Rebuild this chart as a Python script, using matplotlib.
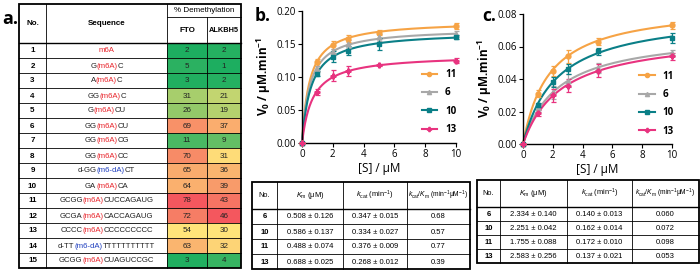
import matplotlib
matplotlib.use("Agg")
import matplotlib.pyplot as plt
import numpy as np
from matplotlib import font_manager
from matplotlib.colors import LinearSegmentedColormap, TwoSlopeNorm
from matplotlib.offsetbox import AnnotationBbox, HPacker, TextArea
from matplotlib.patches import Rectangle

_names = {f.name for f in font_manager.fontManager.ttflist}
NARROW = "Liberation Sans Narrow" if "Liberation Sans Narrow" in _names else "Liberation Sans"
SANS = "Open Sans"

plt.rcParams["font.family"] = [SANS, "DejaVu Sans"]
plt.rcParams["mathtext.fontset"] = "custom"
plt.rcParams["mathtext.rm"] = NARROW
plt.rcParams["mathtext.it"] = NARROW + ":italic"
plt.rcParams["mathtext.bf"] = SANS + ":bold"

# ---- panel a data -------------------------------------------------------
seq_no = list(range(1, 16))
seq_pre = ["", "G", "A", "GG", "G", "GG", "GG", "GG", "d-GG", "GA",
           "GCGG", "GCGA", "CCCC", "d-TT", "GCGG"]
seq_mod = ["m6A", "(m6A)", "(m6A)", "(m6A)", "(m6A)", "(m6A)", "(m6A)", "(m6A)",
           "(m6-dA)", "(m6A)", "(m6A)", "(m6A)", "(m6A)", "(m6-dA)", "(m6A)"]
seq_post = ["", "C", "C", "C", "CU", "CU", "CG", "CC", "CT", "CA",
            "CUCCAGAUG", "CACCAGAUG", "CCCCCCCCC", "TTTTTTTTTTT", "CUAGUCCGC"]
fto = [2, 5, 3, 31, 26, 69, 11, 70, 65, 64, 78, 72, 54, 63, 3]
alkbh5 = [2, 1, 2, 21, 19, 37, 9, 31, 36, 39, 43, 46, 30, 32, 4]

# ---- panels b / c data --------------------------------------------------
subs = [0, 1, 2, 3, 5, 10]
series = ["11", "6", "10", "13"]
colors = {"11": "#F6A345", "6": "#A8A8A8", "10": "#0A7F87", "13": "#E8337F"}
markers = {"11": "o", "6": "^", "10": "s", "13": "P"}

v_b = {
    "11": [0, 0.122, 0.148, 0.158, 0.167, 0.177],
    "6": [0, 0.112, 0.138, 0.150, 0.160, 0.165],
    "10": [0, 0.105, 0.131, 0.140, 0.150, 0.161],
    "13": [0, 0.077, 0.102, 0.109, 0.118, 0.125],
}
err_b = {
    "11": [0, 0.005, 0.006, 0.005, 0.004, 0.005],
    "6": [0, 0.004, 0.005, 0.006, 0.005, 0.004],
    "10": [0, 0.004, 0.008, 0.007, 0.009, 0.003],
    "13": [0, 0.005, 0.008, 0.007, 0.002, 0.004],
}
vmax_b = {"11": 0.185, "6": 0.174, "10": 0.169, "13": 0.134}

v_c = {
    "11": [0, 0.031, 0.045, 0.054, 0.063, 0.073],
    "6": [0, 0.022, 0.032, 0.039, 0.047, 0.056],
    "10": [0, 0.024, 0.038, 0.046, 0.057, 0.065],
    "13": [0, 0.019, 0.030, 0.036, 0.045, 0.054],
}
err_c = {
    "11": [0, 0.002, 0.003, 0.004, 0.002, 0.002],
    "6": [0, 0.002, 0.004, 0.004, 0.003, 0.002],
    "10": [0, 0.001, 0.003, 0.003, 0.002, 0.003],
    "13": [0, 0.002, 0.004, 0.004, 0.004, 0.002],
}
vmax_c = {"11": 0.0858, "6": 0.069, "10": 0.081, "13": 0.068}

kin_no = ["6", "10", "11", "13"]
km_b = [0.508, 0.586, 0.488, 0.688]
km_b_err = [0.126, 0.137, 0.074, 0.025]
kcat_b = [0.347, 0.334, 0.376, 0.268]
kcat_b_err = [0.015, 0.027, 0.009, 0.012]
eff_b = ["0.68", "0.57", "0.77", "0.39"]

km_c = [2.334, 2.251, 1.755, 2.583]
km_c_err = [0.140, 0.042, 0.088, 0.256]
kcat_c = [0.140, 0.162, 0.172, 0.137]
kcat_c_err = [0.013, 0.014, 0.010, 0.021]
eff_c = ["0.060", "0.072", "0.098", "0.053"]

W, H = 700, 272
fig = plt.figure(figsize=(W / 100, H / 100), dpi=100)
ov = fig.add_axes([0, 0, 1, 1])
ov.set_xlim(0, W)
ov.set_ylim(H, 0)
ov.axis("off")

heat = LinearSegmentedColormap.from_list(
    "gyr", ["#1DAE60", "#9CCB6A", "#FFE47A", "#F9A66C", "#F4575E"])
TFS = 5.8  # table font size


def grid(xs, ys, lw_in=0.6, lw_out=1.3):
    for y in ys[1:-1]:
        ov.plot([xs[0], xs[-1]], [y, y], color="k", lw=lw_in)
    for x in xs[1:-1]:
        ov.plot([x, x], [ys[0], ys[-1]], color="k", lw=lw_in)
    ov.add_patch(Rectangle((xs[0], ys[0]), xs[-1] - xs[0], ys[-1] - ys[0],
                           fill=False, ec="k", lw=lw_out))


# ---- panel a table ------------------------------------------------------
ax_cols = [19, 46, 167, 207, 241]
a_top, a_mid, a_head = 4, 17, 43
row_h = 15
rows_y = [a_head + i * row_h for i in range(len(seq_no) + 1)]

for col, vals in ((2, fto), (3, alkbh5)):
    norm = TwoSlopeNorm(vmin=min(vals), vcenter=float(np.median(vals)), vmax=max(vals))
    for i, v in enumerate(vals):
        ov.add_patch(Rectangle((ax_cols[col], rows_y[i]), ax_cols[col + 1] - ax_cols[col],
                               row_h, fc=heat(norm(v)), ec="none"))
        ov.text((ax_cols[col] + ax_cols[col + 1]) / 2, rows_y[i] + row_h / 2 + 0.5, str(v),
                ha="center", va="center", fontsize=TFS, family=NARROW, color="#222222")

for y in rows_y[1:-1]:
    ov.plot([ax_cols[0], ax_cols[-1]], [y, y], color="k", lw=0.6)
ov.plot([ax_cols[0], ax_cols[-1]], [a_head, a_head], color="k", lw=1.0)
ov.plot([ax_cols[2], ax_cols[-1]], [a_mid, a_mid], color="k", lw=0.6)
for x in ax_cols[1:3]:
    ov.plot([x, x], [a_top, rows_y[-1]], color="k", lw=0.6)
ov.plot([ax_cols[3], ax_cols[3]], [a_mid, rows_y[-1]], color="k", lw=0.6)
ov.add_patch(Rectangle((ax_cols[0], a_top), ax_cols[-1] - ax_cols[0], rows_y[-1] - a_top,
                       fill=False, ec="k", lw=1.3))

hdr = dict(ha="center", va="center", fontsize=TFS, family=NARROW, fontweight="bold")
ov.text((ax_cols[0] + ax_cols[1]) / 2, (a_top + a_head) / 2, "No.", **hdr)
ov.text((ax_cols[1] + ax_cols[2]) / 2, (a_top + a_head) / 2, "Sequence", **hdr)
ov.text((ax_cols[2] + ax_cols[4]) / 2, (a_top + a_mid) / 2 + 0.5, "% Demethylation",
        ha="center", va="center", fontsize=TFS, family=NARROW)
ov.text((ax_cols[2] + ax_cols[3]) / 2, (a_mid + a_head) / 2, "FTO", **hdr)
ov.text((ax_cols[3] + ax_cols[4]) / 2, (a_mid + a_head) / 2, "ALKBH5",
        ha="center", va="center", fontsize=5.3, family=NARROW, fontweight="bold")

for i, n in enumerate(seq_no):
    yc = rows_y[i] + row_h / 2
    ov.text((ax_cols[0] + ax_cols[1]) / 2, yc + 0.5, str(n), ha="center", va="center",
            fontsize=TFS, family=NARROW, fontweight="bold")
    mod_color = "#1F3FBF" if "dA" in seq_mod[i] else "#E8242B"
    tp = dict(fontsize=5.6, family=NARROW, color="#222222")
    parts = []
    if seq_pre[i]:
        parts.append(TextArea(seq_pre[i], textprops=tp))
    parts.append(TextArea(seq_mod[i], textprops=dict(tp, color=mod_color)))
    if seq_post[i]:
        parts.append(TextArea(seq_post[i], textprops=tp))
    box = HPacker(children=parts, pad=0, sep=0, align="baseline")
    ov.add_artist(AnnotationBbox(box, ((ax_cols[1] + ax_cols[2]) / 2, yc + 0.5),
                                 xycoords="data", frameon=False, box_alignment=(0.5, 0.5), pad=0))

ov.text(2, 19, "a.", fontsize=13, fontweight="bold", va="center", ha="left")


# ---- kinetics plots -----------------------------------------------------
def kin_plot(rect, vals, errs, vmax, kms, ylim, yticks, fmt):
    ax = fig.add_axes(rect)
    s = np.linspace(0, 10, 200)
    for name in series:
        km = kms[kin_no.index(name)]
        ax.plot(s, vmax[name] * s / (km + s), color=colors[name], lw=1.5, clip_on=False)
        ax.errorbar(subs, vals[name], yerr=errs[name], fmt=markers[name], ms=3.5,
                    color=colors[name], ecolor=colors[name], elinewidth=0.9, capsize=1.8,
                    capthick=0.9, clip_on=False, zorder=3)
    handles = [plt.Line2D([], [], color=colors[n], marker=markers[n], ms=3, lw=1.5) for n in series]
    ax.legend(handles, series, loc="center left", bbox_to_anchor=(0.72, 0.31), frameon=False,
              handlelength=1.6, labelspacing=0.75, prop=dict(family=SANS, weight="bold", size=7))
    ax.set_xlim(0, 10)
    ax.set_ylim(*ylim)
    ax.set_xticks([0, 2, 4, 6, 8, 10])
    ax.set_yticks(yticks)
    ax.set_yticklabels([fmt.format(t) for t in yticks])
    for sp in ("top", "right"):
        ax.spines[sp].set_visible(False)
    for sp in ("left", "bottom"):
        ax.spines[sp].set_linewidth(1.0)
    ax.tick_params(labelsize=7, length=3, width=0.8, pad=1.5)
    ax.set_xlabel("[S] / μM", fontsize=8.5, labelpad=1)
    ax.set_ylabel(r"$\mathbf{V_0}$ / μM.min$^{\mathbf{-1}}$", fontsize=8.5,
                  fontweight="bold", labelpad=2)
    return ax


kin_plot([302 / W, 1 - 143 / H, 154 / W, 132 / H], v_b, err_b, vmax_b, km_b,
         (0, 0.20), [0, 0.05, 0.10, 0.15, 0.20], "{:.2f}")
kin_plot([523 / W, 1 - 144 / H, 149 / W, 130 / H], v_c, err_c, vmax_c, km_c,
         (0, 0.08), [0, 0.02, 0.04, 0.06, 0.08], "{:.2f}")
ov.text(255, 16, "b.", fontsize=12.5, fontweight="bold", va="center", ha="left")
ov.text(482, 16, "c.", fontsize=12.5, fontweight="bold", va="center", ha="left")


# ---- kinetics tables ----------------------------------------------------
def kin_table(xs, ys, km, km_err, kcat, kcat_err, eff):
    grid(xs, ys)
    ov.plot([xs[0], xs[-1]], [ys[1], ys[1]], color="k", lw=1.0)
    heads = ["No.", r"$K_\mathrm{m}$ (μM)", r"$k_\mathrm{cat}$ (min$^{-1}$)",
             r"$k_\mathrm{cat}/K_\mathrm{m}$ (min$^{-1}$μM$^{-1}$)"]
    for j, h in enumerate(heads):
        ov.text((xs[j] + xs[j + 1]) / 2, (ys[0] + ys[1]) / 2, h, ha="center", va="center",
                fontsize=4.9 if j == 3 else 5.3, family=NARROW)
    for i in range(len(kin_no)):
        cells = [kin_no[i], f"{km[i]:.3f} ± {km_err[i]:.3f}",
                 f"{kcat[i]:.3f} ± {kcat_err[i]:.3f}", eff[i]]
        for j, c in enumerate(cells):
            ov.text((xs[j] + xs[j + 1]) / 2, (ys[i + 1] + ys[i + 2]) / 2 + 0.5, c,
                    ha="center", va="center", fontsize=5.5, family=NARROW,
                    fontweight="bold" if j == 0 else "normal")


kin_table([252, 277, 343, 407, 470], [182, 209, 224, 239, 254, 269],
          km_b, km_b_err, kcat_b, kcat_b_err, eff_b)
kin_table([477, 500, 567, 632, 699], [180, 207, 221, 235, 249, 263],
          km_c, km_c_err, kcat_c, kcat_c_err, eff_c)

fig.savefig("out.png", dpi=100)
